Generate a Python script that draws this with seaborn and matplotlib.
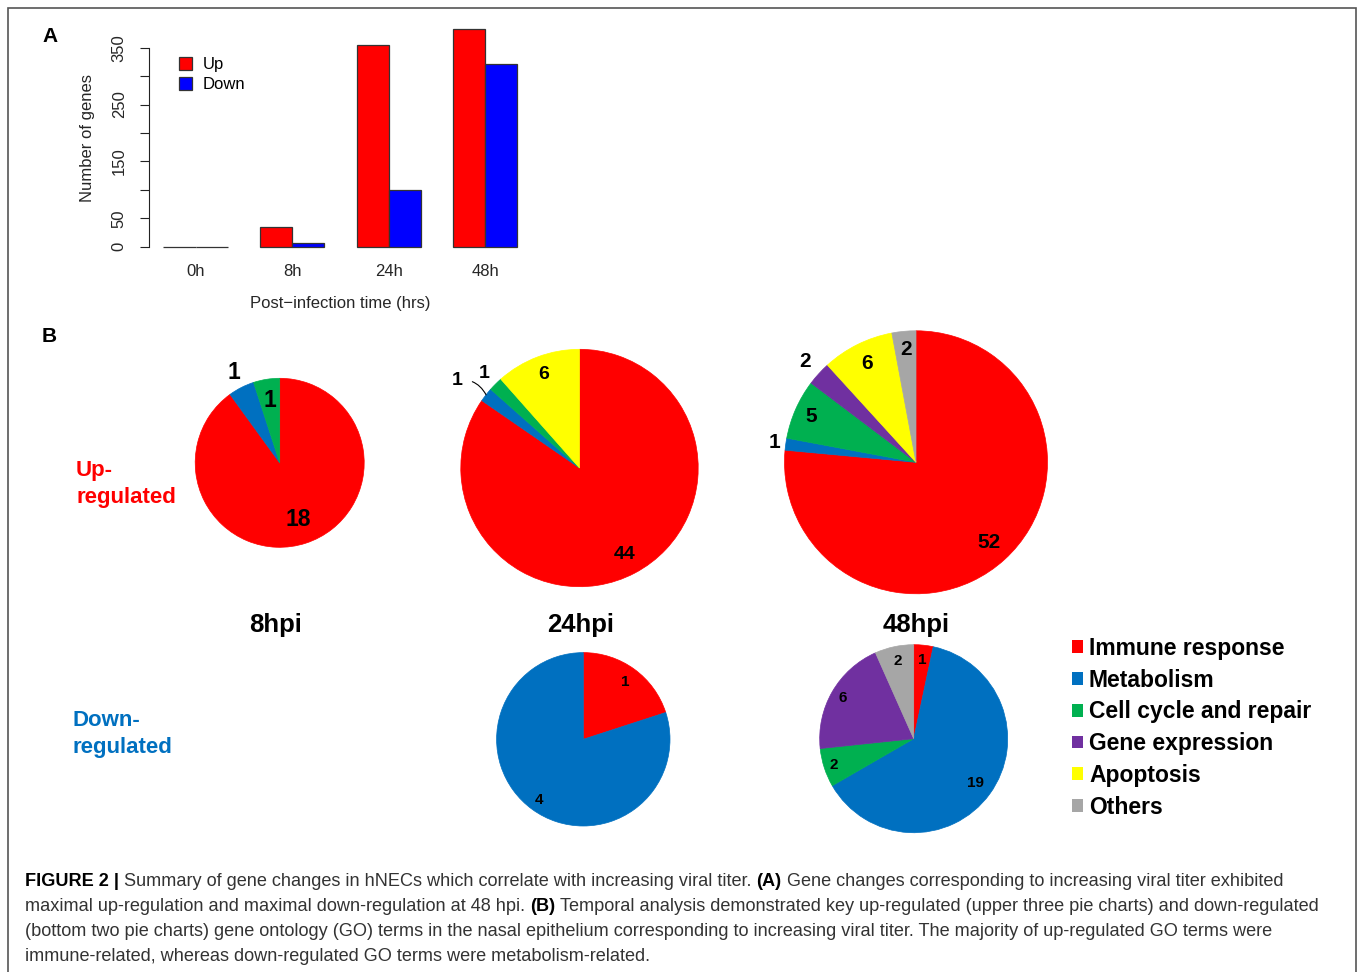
import numpy as np
import pandas as pd
import matplotlib
matplotlib.use("Agg")
import matplotlib.pyplot as plt
from matplotlib.patches import Patch, Rectangle
import seaborn as sns

# ---- Panel A: number of differentially expressed genes per time point ----
times = ["0h", "8h", "24h", "48h"]
up_counts = [0, 35, 354, 382]
down_counts = [0, 6, 100, 321]

# ---- Panel B: GO term categories per time point ----
go_terms = ["Immune response", "Metabolism", "Cell cycle and repair",
            "Gene expression", "Apoptosis", "Others"]
up_8hpi = [18, 1, 1, 0, 0, 0]
up_24hpi = [44, 1, 1, 0, 6, 0]
up_48hpi = [52, 1, 5, 2, 6, 2]
down_24hpi = [1, 4, 0, 0, 0, 0]
down_48hpi = [1, 19, 2, 6, 0, 2]
pie_titles = ["8hpi", "24hpi", "48hpi"]

term_colors = ["#FF0000", "#0070C0", "#00B050", "#7030A0", "#FFFF00", "#A6A6A6"]

W, H = 1357, 972
sns.set_theme(style="ticks")
plt.rcParams["font.family"] = ["Liberation Sans", "DejaVu Sans"]
plt.rcParams["axes.edgecolor"] = "#222222"
plt.rcParams["text.color"] = "black"

fig = plt.figure(figsize=(W / 100, H / 100), dpi=100)
fig.patch.set_facecolor("white")


def box(x0, y0, x1, y1):
    """Axes rectangle from pixel corners (origin at top-left)."""
    return [x0 / W, 1 - y1 / H, (x1 - x0) / W, (y1 - y0) / H]


# ---------------- Panel A: grouped bar chart ----------------
axA = fig.add_axes(box(149, 20.8, 531.6, 255.4))
bars = pd.DataFrame({
    "time": times * 2,
    "direction": ["Up"] * len(times) + ["Down"] * len(times),
    "genes": up_counts + down_counts,
})
sns.barplot(data=bars, x="time", y="genes", hue="direction",
            order=times, hue_order=["Up", "Down"],
            palette={"Up": "#FF0000", "Down": "#0000FF"},
            width=2 / 3, errorbar=None, saturation=1,
            edgecolor="#333333", linewidth=0.9, ax=axA)
axA.set_xlim(-0.483, 3.48)
axA.set_ylim(-15.28, 397.28)
axA.set_facecolor("white")
for side in ["top", "right", "bottom"]:
    axA.spines[side].set_visible(False)
axA.spines["left"].set_bounds(0, 350)
axA.spines["left"].set_linewidth(0.8)

yt = list(range(0, 351, 50))
axA.set_yticks(yt)
axA.set_yticklabels([str(v) if v in (0, 50, 150, 250, 350) else "" for v in yt])
axA.tick_params(axis="y", length=6.5, width=0.8, pad=9.5, labelsize=12,
                color="#222222")
for lab in axA.get_yticklabels():
    lab.set_rotation(90)
    lab.set_va("center")
axA.tick_params(axis="x", length=0, pad=6, labelsize=12)

axA.set_xlabel("Post\u2212infection time (hrs)", fontsize=12, va="center")
axA.xaxis.set_label_coords(0.5, -0.203)
axA.set_ylabel("Number of genes", fontsize=12, va="center")
axA.yaxis.set_label_coords(-0.162, 0.5)

sns.move_legend(axA, "upper left", bbox_to_anchor=(179 / W, 1 - 57 / H),
                bbox_transform=fig.transFigure, frameon=False, title=None,
                fontsize=12, handlelength=0.8, handleheight=0.8,
                handletextpad=0.64, labelspacing=0.28, borderpad=0,
                borderaxespad=0)

fig.text(50 / W, 1 - 36 / H, "A", fontsize=15, fontweight="bold",
         ha="center", va="center")

# ---------------- Panel B: GO term pie charts ----------------
fig.text(49 / W, 1 - 336 / H, "B", fontsize=15, fontweight="bold",
         ha="center", va="center")

# (values, centre px, radius px, label size, radial label position per term,
#  terms whose label is joined to its wedge with a leader line)
pies = [
    (up_8hpi, (279.7, 462.8), 84.5, 16.5, [0.70, 1.20, 0.75, 0, 0, 0], []),
    (up_24hpi, (579.5, 468.0), 118.7, 14, [0.82, 1.27, 1.13, 0, 0.84, 0], [1]),
    (up_48hpi, (916.0, 462.3), 131.5, 15, [0.83, 1.09, 0.87, 1.14, 0.84, 0.86], []),
    (down_24hpi, (583.3, 739.3), 86.7, 11, [0.82, 0.86, 0, 0, 0, 0], []),
    (down_48hpi, (913.7, 738.7), 94.0, 11, [0.84, 0.81, 0.89, 0.87, 0, 0.84], []),
]

for values, (cx, cy), r, fs, label_r, leaders in pies:
    ax = fig.add_axes(box(cx - r, cy - r, cx + r, cy + r))
    idx = [i for i, v in enumerate(values) if v > 0]
    vals = [values[i] for i in idx]
    cols = [term_colors[i] for i in idx]
    wedges, _ = ax.pie(vals, colors=cols, startangle=90, counterclock=False,
                       radius=1, wedgeprops=dict(linewidth=0.5))
    for w in wedges:
        w.set_edgecolor(w.get_facecolor())
    ax.set_xlim(-1, 1)
    ax.set_ylim(-1, 1)
    ax.set_aspect("equal")
    ax.axis("off")
    for w, i in zip(wedges, idx):
        mid = np.deg2rad((w.theta1 + w.theta2) / 2)
        rr = label_r[i]
        pos = (rr * np.cos(mid), rr * np.sin(mid))
        if i in leaders:
            pos = (rr * np.cos(mid + np.deg2rad(2.5)), rr * np.sin(mid + np.deg2rad(2.5)))
            ax.annotate(str(values[i]), xy=(np.cos(mid), np.sin(mid)), xytext=pos,
                        fontsize=fs, fontweight="bold", ha="center", va="center",
                        arrowprops=dict(arrowstyle="-", color="black", lw=0.8,
                                        shrinkA=5, shrinkB=0,
                                        connectionstyle="arc3,rad=-0.35"))
        else:
            ax.text(pos[0], pos[1], str(values[i]), fontsize=fs,
                    fontweight="bold", ha="center", va="center")

for title, x in zip(pie_titles, [276, 581, 916]):
    fig.text(x / W, 1 - 625 / H, title, fontsize=18.5, fontweight="bold",
             ha="center", va="center")

fig.text(76 / W, 1 - 484 / H, "Up-\nregulated", fontsize=16, fontweight="bold",
         color="#FF0000", ha="left", va="center", linespacing=1.33)
fig.text(72 / W, 1 - 734 / H, "Down-\nregulated", fontsize=16, fontweight="bold",
         color="#0070C0", ha="left", va="center", linespacing=1.33)

fig.legend(handles=[Patch(facecolor=c, edgecolor="none") for c in term_colors],
           labels=go_terms, loc="upper left",
           bbox_to_anchor=(1072 / W, 1 - 637 / H), frameon=False,
           prop={"weight": "bold", "size": 16.5}, handlelength=0.48,
           handleheight=0.48, handletextpad=0.26, labelspacing=0.38,
           borderpad=0, borderaxespad=0)

# ---------------- Caption ----------------
renderer = fig.canvas.get_renderer()
cap_kw = dict(fontsize=13.05, ha="left", va="baseline")


def seg_width(s, bold):
    t = fig.text(0, 0, s, fontweight="bold" if bold else "normal", **cap_kw)
    wdt = t.get_window_extent(renderer).width
    t.remove()
    return wdt


space_w = seg_width("x x", False) - seg_width("xx", False)

caption = [
    [("FIGURE 2 |", True),
     (" Summary of gene changes in hNECs which correlate with increasing viral titer. ", False),
     ("(A)", True),
     (" Gene changes corresponding to increasing viral titer exhibited", False)],
    [("maximal up-regulation and maximal down-regulation at 48 hpi. ", False),
     ("(B)", True),
     (" Temporal analysis demonstrated key up-regulated (upper three pie charts) and down-regulated", False)],
    [("(bottom two pie charts) gene ontology (GO) terms in the nasal epithelium corresponding to increasing viral titer. The majority of up-regulated GO terms were", False)],
    [("immune-related, whereas down-regulated GO terms were metabolism-related.", False)],
]
for k, line in enumerate(caption):
    x = 25.0
    y = 886 + 25 * k
    for s, bold in line:
        lead = len(s) - len(s.lstrip(" "))
        trail = len(s) - len(s.rstrip(" "))
        x += lead * space_w
        core = s.strip(" ")
        t = fig.text(x / W, 1 - y / H, core,
                     fontweight="bold" if bold else "normal",
                     color="black" if bold else "#333333", **cap_kw)
        x += t.get_window_extent(renderer).width + trail * space_w

# Panel frame
fig.add_artist(Rectangle((8 / W, -0.01), (1356 - 8) / W, 1 - 8 / H + 0.01,
                         transform=fig.transFigure, fill=False,
                         edgecolor="#555555", linewidth=1.2))

fig.savefig("out.png", dpi=100)
